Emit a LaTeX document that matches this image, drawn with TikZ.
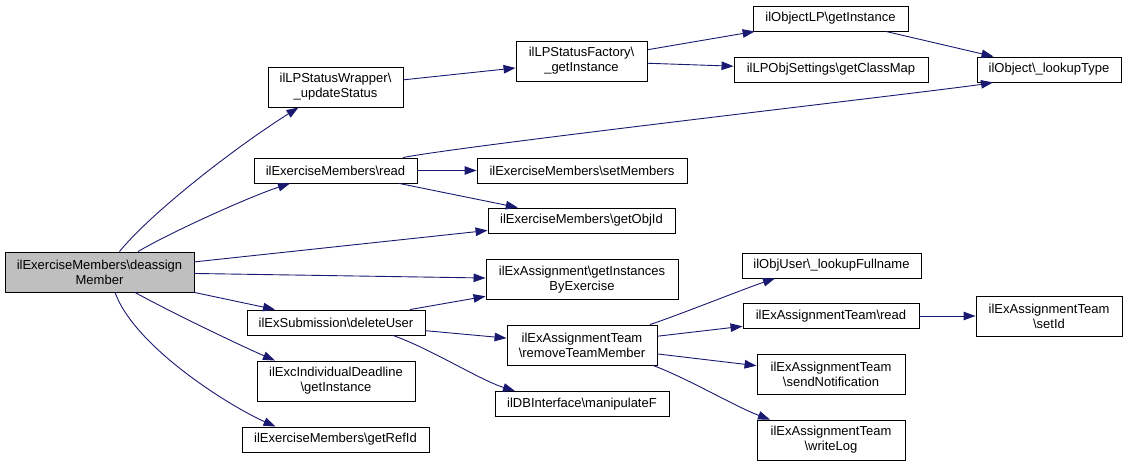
\documentclass[tikz,border=0pt]{standalone}
\usepackage{fontspec}
\setmainfont{Liberation Sans}
\usetikzlibrary{arrows.meta}
\definecolor{callblue}{RGB}{25,25,112}
\newcommand{\bsl}{\textbackslash}

\begin{document}
\begin{tikzpicture}[
  x=1pt, y=-1pt,
  box/.style={draw, line width=0.9pt, fill=white, align=center, inner sep=1pt,
    font=\fontsize{13}{15}\selectfont, minimum height=25pt},
  tall/.style={minimum height=40pt},
  calls/.style={->, draw=callblue, line width=0.9pt},
  >={Triangle[length=12pt,width=8.5pt]}
]
  \useasboundingbox (0,0) rectangle (1128,466);

  % caller
  \node[box, tall, fill=black!25, minimum width=189pt] (deassign) at (99.5,272) {ilExerciseMembers\bsl deassign\\Member};

  % first level
  \node[box, tall, minimum width=135pt] (wrapper) at (335.5,87) {ilLPStatusWrapper\bsl\\\_updateStatus};
  \node[box, minimum width=163pt] (read) at (335.5,170.5) {ilExerciseMembers\bsl read};
  \node[box, minimum width=178pt] (deleteuser) at (336,322.5) {ilExSubmission\bsl deleteUser};
  \node[box, tall, minimum width=158pt] (deadline) at (336,381) {ilExcIndividualDeadline\\\bsl getInstance};
  \node[box, minimum width=187pt] (refid) at (335.5,439.5) {ilExerciseMembers\bsl getRefId};

  % second level
  \node[box, tall, minimum width=131pt] (factory) at (581.5,61) {ilLPStatusFactory\bsl\\\_getInstance};
  \node[box, minimum width=210pt] (setmembers) at (582,170.5) {ilExerciseMembers\bsl setMembers};
  \node[box, minimum width=187pt] (objid) at (581.5,220.5) {ilExerciseMembers\bsl getObjId};
  \node[box, tall, minimum width=192pt] (instances) at (582,279.5) {ilExAssignment\bsl getInstances\\ByExercise};
  \node[box, tall, minimum width=150pt] (removemember) at (582,345) {ilExAssignmentTeam\\\bsl removeTeamMember};
  \node[box, minimum width=174pt] (manipulate) at (582,404) {ilDBInterface\bsl manipulateF};

  % third level
  \node[box, minimum width=155pt] (objlp) at (830.5,18.5) {ilObjectLP\bsl getInstance};
  \node[box, minimum width=194pt] (classmap) at (831,69.5) {ilLPObjSettings\bsl getClassMap};
  \node[box, minimum width=179pt] (fullname) at (831.5,265.5) {ilObjUser\bsl\_lookupFullname};
  \node[box, minimum width=176pt] (teamread) at (831,316) {ilExAssignmentTeam\bsl read};
  \node[box, tall, minimum width=148pt] (notify) at (831,374.5) {ilExAssignmentTeam\\\bsl sendNotification};
  \node[box, tall, minimum width=148pt] (writelog) at (831,440) {ilExAssignmentTeam\\\bsl writeLog};

  % fourth level
  \node[box, minimum width=144pt] (lookuptype) at (1049,69.5) {ilObject\bsl\_lookupType};
  \node[box, tall, minimum width=146pt] (setid) at (1049,316) {ilExAssignmentTeam\\\bsl setId};

  % calls
  \draw[calls] ([xshift=20pt]deassign.north) .. controls +(30,-37) and +(-68,43) .. ([xshift=-37pt]wrapper.south);
  \draw[calls] ([xshift=38.5pt]deassign.north) .. controls +(32,-19) and +(-40,13) .. ([xshift=-45.5pt]read.south);
  \draw[calls] (deassign) -- (objid);
  \draw[calls] (deassign) -- (instances);
  \draw[calls] (deassign.south east) -- (deleteuser);
  \draw[calls] ([xshift=35.5pt]deassign.south) .. controls +(40,22) and +(-30,-13) .. ([xshift=-61pt]deadline.north);
  \draw[calls] ([xshift=15.5pt]deassign.south) .. controls +(20,55) and +(-45,-20) .. ([xshift=-60pt]refid.north);

  \draw[calls] (wrapper) -- (factory);
  \draw[calls] (factory) -- (objlp);
  \draw[calls] (factory) -- (classmap);
  \draw[calls] (objlp) -- (lookuptype);

  \draw[calls] ([xshift=67.5pt]read.north) .. controls +(60,-12) and +(-50,8) .. ([xshift=-56pt]lookuptype.south);
  \draw[calls] (read) -- (setmembers);
  \draw[calls] (read) -- (objid);

  \draw[calls] (deleteuser) -- (instances);
  \draw[calls] (deleteuser) -- (removemember);
  \draw[calls] ([xshift=57pt]deleteuser.south) .. controls +(37,13) and +(-35,-11) .. ([xshift=-67pt]manipulate.north);

  \draw[calls] ([xshift=68pt]removemember.north) .. controls +(30,-10) and +(-30,10) .. ([xshift=-56.5pt]fullname.south);
  \draw[calls] (removemember) -- (teamread);
  \draw[calls] (removemember) -- (notify);
  \draw[calls] ([xshift=71pt]removemember.south) .. controls +(35,13) and +(-35,-13) .. ([xshift=-61pt]writelog.north);

  \draw[calls] (teamread) -- (setid);
\end{tikzpicture}
\end{document}
